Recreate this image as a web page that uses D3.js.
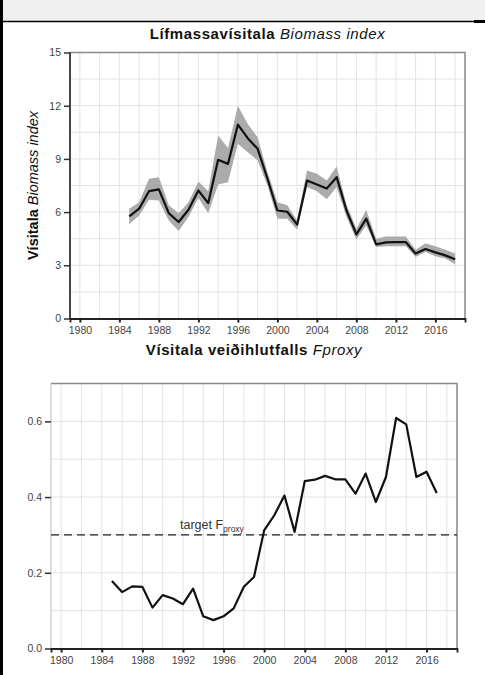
<!DOCTYPE html>
<html>
<head>
<meta charset="utf-8">
<script src="https://cdn.jsdelivr.net/npm/d3@7"></script>
<style>
  body { margin: 0; background: #fff; }
  text { font-family: "Liberation Sans", Arial, sans-serif; }
</style>
</head>
<body>
<div id="chart"></div>
<script>
var width = 485, height = 675;

// biomass index
var bioYears = d3.range(1985, 2019);
var bioIndex = [5.76, 6.19, 7.18, 7.28, 5.94, 5.44, 6.13, 7.22, 6.51, 8.95, 8.72, 10.93, 10.17, 9.57, 7.88, 6.09, 6.02, 5.29, 7.78, 7.56, 7.33, 7.97, 6.09, 4.74, 5.63, 4.18, 4.29, 4.31, 4.31, 3.66, 3.92, 3.73, 3.56, 3.34];
var bioUpper = [6.19, 6.56, 7.88, 7.97, 6.38, 5.94, 6.56, 7.73, 7.18, 10.32, 9.62, 12.0, 10.97, 10.22, 8.25, 6.56, 6.38, 5.53, 8.35, 8.16, 7.78, 8.57, 6.43, 5.06, 6.13, 4.50, 4.63, 4.63, 4.63, 3.88, 4.25, 4.07, 3.88, 3.66];
var bioLower = [5.31, 5.81, 6.70, 6.66, 5.53, 4.93, 5.72, 6.81, 5.94, 7.56, 7.69, 9.85, 9.38, 8.91, 7.50, 5.63, 5.63, 5.01, 7.41, 7.18, 6.73, 7.41, 5.72, 4.45, 5.25, 4.03, 4.07, 4.07, 4.07, 3.47, 3.75, 3.51, 3.38, 3.06];

// fishing mortality proxy
var fYears = d3.range(1985, 2018);
var fProxy = [0.178, 0.149, 0.164, 0.163, 0.108, 0.141, 0.132, 0.117, 0.158, 0.085, 0.075, 0.085, 0.106, 0.163, 0.189, 0.312, 0.352, 0.404, 0.308, 0.442, 0.446, 0.456, 0.447, 0.447, 0.409, 0.462, 0.387, 0.453, 0.609, 0.592, 0.453, 0.467, 0.411];
var fTarget = 0.3;

var xTicks = [1980, 1984, 1988, 1992, 1996, 2000, 2004, 2008, 2012, 2016];
var bioTicks = [0, 3, 6, 9, 12, 15];
var fTicks = [0, 0.2, 0.4, 0.6];

var svg = d3.select("#chart").append("svg").attr("width", width).attr("height", height);

// frame bits
svg.append("rect").attr("x", 0).attr("y", 0).attr("width", width).attr("height", 21).attr("fill", "#f0f0f0");
svg.append("line").attr("x1", 0).attr("x2", 474).attr("y1", 21.5).attr("y2", 21.5).attr("stroke", "#000").attr("stroke-width", 1.5);
svg.append("line").attr("x1", 474).attr("x2", 485).attr("y1", 21.5).attr("y2", 21.5).attr("stroke", "#000").attr("stroke-width", 3);
svg.append("rect").attr("x", 0).attr("y", 0).attr("width", 3).attr("height", height).attr("fill", "#000");

function panel(opt) {
  var x = d3.scaleLinear().domain([1979, 2019]).range([opt.left, opt.right]);
  var y = d3.scaleLinear().domain(opt.ydom).range([opt.bottom, opt.top]);
  var g = svg.append("g");

  g.append("rect").attr("x", opt.left).attr("y", opt.top).attr("width", opt.right - opt.left).attr("height", opt.bottom - opt.top).attr("fill", "#fff");

  // grid
  g.selectAll(".vg").data(d3.range(1980, 2019, 2)).enter().append("line")
    .attr("x1", d => x(d)).attr("x2", d => x(d)).attr("y1", opt.top).attr("y2", opt.bottom)
    .attr("stroke", "#e2e2e2").attr("stroke-width", 1);
  g.selectAll(".hg").data(opt.hgrid).enter().append("line")
    .attr("x1", opt.left).attr("x2", opt.right).attr("y1", d => y(d)).attr("y2", d => y(d))
    .attr("stroke", "#e2e2e2").attr("stroke-width", 1);

  // box top/right
  g.append("path").attr("d", "M" + opt.left + "," + opt.top + "H" + opt.right + "V" + opt.bottom)
    .attr("fill", "none").attr("stroke", "#888").attr("stroke-width", 1.5);
  g.append("line").attr("x1", opt.left).attr("x2", opt.left).attr("y1", opt.top).attr("y2", opt.bottom)
    .attr("stroke", opt.leftColor).attr("stroke-width", opt.leftWidth);

  // x axis
  var xa = g.append("g").attr("transform", "translate(0," + opt.bottom + ")")
    .call(d3.axisBottom(x).tickValues(xTicks).tickFormat(d3.format("d")).tickSize(4).tickPadding(4));
  xa.select(".domain").attr("stroke", "#222").attr("stroke-width", 1.8);
  xa.selectAll(".tick line").attr("stroke", "#222").attr("stroke-width", 2);
  xa.selectAll("text").attr("font-size", 10.5).attr("fill", "#444");

  // y axis ticks
  var ya = g.append("g").attr("transform", "translate(" + opt.left + ",0)")
    .call(d3.axisLeft(y).tickValues(opt.yticks).tickFormat(opt.yfmt).tickSize(6).tickPadding(3));
  ya.select(".domain").remove();
  ya.selectAll(".tick line").attr("stroke", "#333").attr("stroke-width", 1.5);
  ya.selectAll("text").attr("font-size", 10.5).attr("fill", "#444");

  // title
  var t = svg.append("text").attr("x", (opt.left + opt.right) / 2).attr("y", opt.titleY)
    .attr("text-anchor", "middle").attr("font-size", 15).attr("letter-spacing", 0.6).attr("fill", "#111");
  t.append("tspan").attr("font-weight", "bold").text(opt.title[0]);
  t.append("tspan").attr("font-style", "italic").text(" " + opt.title[1]);

  return { x: x, y: y, g: g };
}

// top panel
var p1 = panel({
  left: 70, right: 465, top: 52.5, bottom: 318.5,
  ydom: [0, 15], yticks: bioTicks, yfmt: d3.format("d"),
  hgrid: d3.range(1.5, 15, 1.5),
  leftColor: "#333", leftWidth: 1.8,
  title: ["Lífmassavísitala", "Biomass index"], titleY: 39
});

var band = d3.area()
  .x((d, i) => p1.x(bioYears[i]))
  .y0((d, i) => p1.y(bioLower[i]))
  .y1((d, i) => p1.y(bioUpper[i]));
p1.g.append("path").datum(bioIndex).attr("d", band).attr("fill", "#ababab");

var bioLine = d3.line().x((d, i) => p1.x(bioYears[i])).y(d => p1.y(d));
p1.g.append("path").datum(bioIndex).attr("d", bioLine)
  .attr("fill", "none").attr("stroke", "#111").attr("stroke-width", 2.2).attr("stroke-linejoin", "round");

var yl = svg.append("text").attr("transform", "translate(38,185.5) rotate(-90)")
  .attr("text-anchor", "middle").attr("font-size", 14.5).attr("fill", "#111");
yl.append("tspan").attr("font-weight", "bold").text("Vísitala");
yl.append("tspan").attr("font-style", "italic").text(" Biomass index");

// bottom panel
var p2 = panel({
  left: 51, right: 457, top: 383.5, bottom: 648.5,
  ydom: [0, 0.7], yticks: fTicks, yfmt: d3.format(".1f"),
  hgrid: [0.1, 0.2, 0.3, 0.4, 0.5, 0.6],
  leftColor: "#bbb", leftWidth: 1,
  title: ["Vísitala veiðihlutfalls", "Fproxy"], titleY: 355
});

p2.g.append("line").attr("x1", 51).attr("x2", 457)
  .attr("y1", p2.y(fTarget)).attr("y2", p2.y(fTarget))
  .attr("stroke", "#222").attr("stroke-width", 1.3).attr("stroke-dasharray", "8,5");

var fLine = d3.line().x((d, i) => p2.x(fYears[i])).y(d => p2.y(d));
p2.g.append("path").datum(fProxy).attr("d", fLine)
  .attr("fill", "none").attr("stroke", "#111").attr("stroke-width", 2.2).attr("stroke-linejoin", "round");

var tl = p2.g.append("text").attr("x", 180).attr("y", p2.y(fTarget) - 6)
  .attr("font-size", 12.5).attr("fill", "#333");
tl.append("tspan").text("target F");
tl.append("tspan").attr("font-size", 8.5).attr("dy", 3).text("proxy");
</script>
</body>
</html>
